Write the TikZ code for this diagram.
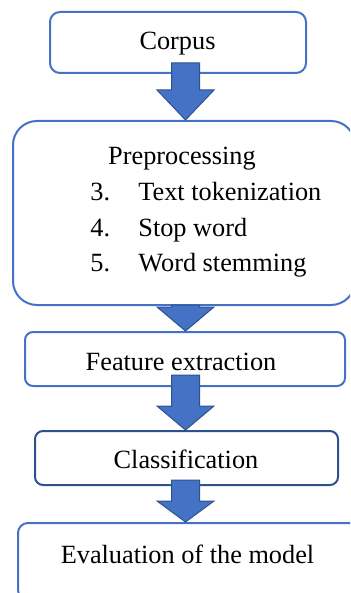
\documentclass[tikz,border=0pt]{standalone}
\usepackage{fontspec}
\setmainfont{Liberation Serif}
\usepackage{tikz}
\usetikzlibrary{calc,fit}
\definecolor{flowedge}{RGB}{68,114,196}
\definecolor{flowdark}{RGB}{47,82,143}
\definecolor{flowfill}{RGB}{68,114,196}
\tikzset{
  flowbox/.style={
    draw=flowedge, fill=white, line width=1pt,
    inner sep=0pt, rounded corners=5pt
  },
  darkbox/.style={flowbox, draw=flowdark},
  lbl/.style={anchor=base, inner sep=0pt, font=\fontsize{13.15}{16}\selectfont},
  fatarr/.style={draw=flowdark, fill=flowfill, line width=0.5pt, line join=miter}
}

\begin{document}
\begin{tikzpicture}[x=0.5pt, y=-0.5pt]
  \useasboundingbox (0,0) rectangle (350,593);
  \clip (0,0) rectangle (350,593);
  % boxes
  \node[flowbox, fit={(50,12) (306,73)}] (corpus) {};
  \node[flowbox, rounded corners=12pt, fit={(13,121) (355,305)}] (prep) {};
  \node[flowbox, rounded corners=4pt, fit={(25,332) (345,386)}] (feat) {};
  \node[darkbox, rounded corners=4pt, fit={(35,431) (338,485)}] (clas) {};
  \node[flowbox, fit={(18,523) (365,600)}] (eval) {};
  % block arrows
  \coordinate (axis) at (185.5,0);
  \foreach \p/\q/\up/\hd in {corpus/prep/11/30, prep/feat/1/24, feat/clas/12/24, clas/eval/6/21}
    \draw[fatarr] ($(axis |- \p.south)+(-14,-\up)$) -- ($(axis |- \q.north)+(-14,-\hd)$)
      -- ++(-14.5,0) -- (axis |- \q.north) -- ++(28.5,-\hd) -- ++(-14.5,0)
      -- ($(axis |- \p.south)+(14,-\up)$) -- cycle;
  % texts
  \node[lbl] (corpustxt) at (177.5,50) {Corpus};
  \node[lbl] (preptxt) at (182,165) {Preprocessing};
  \foreach \n/\t/\y [count=\i] in {3/Text tokenization/200, 4/Stop word/236, 5/Word stemming/271} {
    \node[lbl, anchor=base west] (num\i) at (90,\y) {\n.};
    \node[lbl, anchor=base west] (item\i) at (138,\y) {\t};
  }
  \node[lbl] (feattxt) at (181,370) {Feature extraction};
  \node[lbl] (clastxt) at (186,468) {Classification};
  \node[lbl] (evaltxt) at (187.5,563) {Evaluation of the model};
\end{tikzpicture}
\end{document}
